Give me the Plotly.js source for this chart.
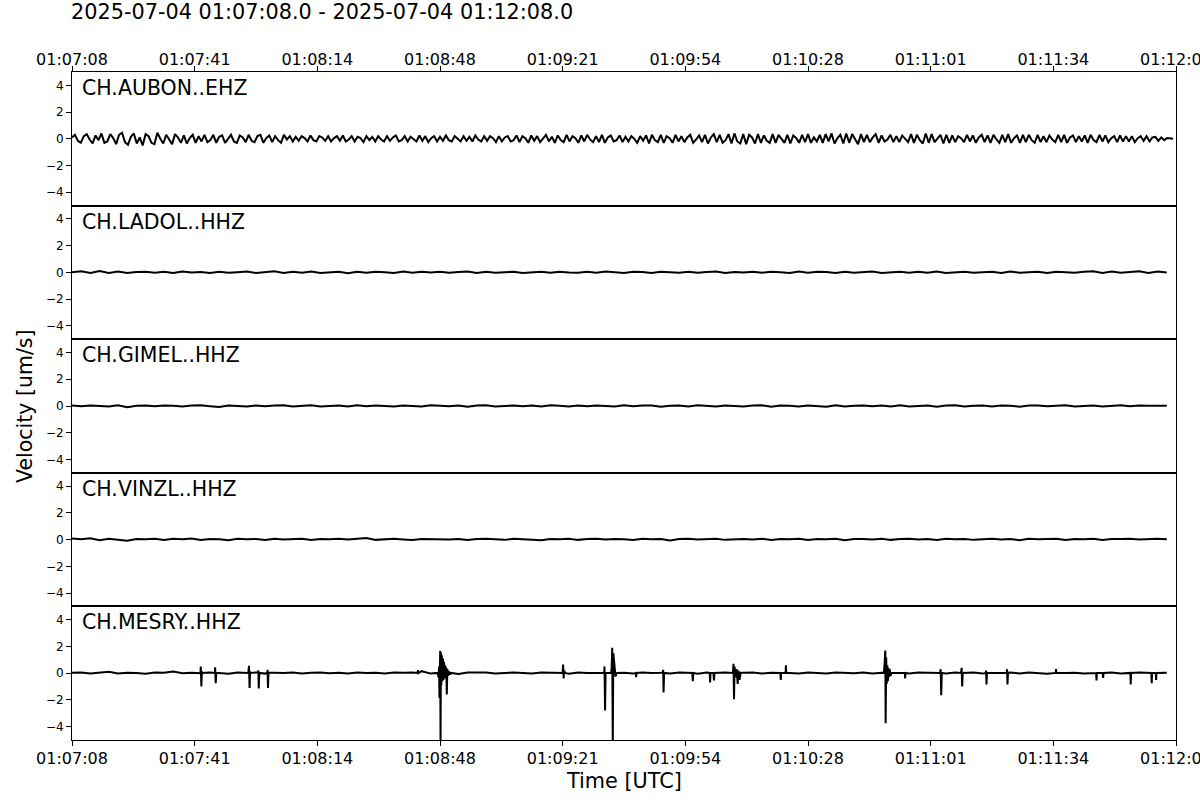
<!DOCTYPE html>
<html>
<head>
<meta charset="utf-8">
<script src="https://cdn.plot.ly/plotly-3.0.1.min.js"></script>
<style>
html,body{margin:0;padding:0;background:#fff;}
#chart{width:1200px;height:800px;}
</style>
</head>
<body>
<div id="chart"></div>
<script>
// ---------- DATA ----------
const chartTitle = "2025-07-04 01:07:08.0 - 2025-07-04 01:12:08.0";
const stationNames = ["CH.AUBON..EHZ", "CH.LADOL..HHZ", "CH.GIMEL..HHZ", "CH.VINZL..HHZ", "CH.MESRY..HHZ"];
const tickSeconds = [0, 33.333, 66.667, 100, 133.333, 166.667, 200, 233.333, 266.667, 300];
const tickLabels = ["01:07:08", "01:07:41", "01:08:14", "01:08:48", "01:09:21", "01:09:54", "01:10:28", "01:11:01", "01:11:34", "01:12:08"];
const yTickValues = [-4, -2, 0, 2, 4];

// AUBON sampled every 0.8 s (velocity, um/s)
const aubonDelta = 0.8;
const aubonValues = [
 0.1,0.3,-0.15,-0.3,0.2,0.35,-0.05,-0.35,0.25,-0.1,0.4,-0.3,-0.2,0.35,0.05,
 -0.4,0.3,0.45,-0.25,-0.45,0.15,0.4,-0.35,0.1,-0.5,0.35,0.2,-0.3,-0.4,0.45,
 0.0,-0.35,0.3,-0.1,-0.4,0.35,0.1,-0.3,0.25,-0.35,0.05,0.3,-0.3,0.2,-0.2,
 0.3,-0.25,-0.1,0.3,-0.3,0.15,0.25,-0.3,0.0,0.3,-0.2,-0.3,0.25,0.1,-0.25,
 0.3,-0.15,-0.25,0.2,0.3,-0.3,0.05,0.25,-0.25,0.2,-0.1,-0.3,0.3,-0.05,0.2,
 -0.2,0.15,-0.15,0.2,0.05,-0.2,0.25,-0.1,-0.2,0.2,0.1,-0.15,0.2,-0.2,0.05,
 0.2,-0.15,0.25,-0.2,-0.05,0.2,-0.2,0.15,0.05,-0.25,0.2,-0.1,0.15,-0.2,0.2,
 -0.05,-0.2,0.2,-0.15,0.1,0.25,-0.2,-0.1,0.2,-0.2,0.15,-0.05,-0.2,0.25,-0.15,
 0.2,-0.25,0.05,0.2,-0.2,0.15,-0.15,0.25,-0.1,-0.2,0.2,0.0,-0.2,0.2,-0.15,
 0.15,-0.2,0.25,-0.05,-0.2,0.2,-0.15,0.2,0.05,-0.25,0.2,-0.2,0.1,0.2,-0.2,
 -0.1,0.25,-0.25,0.2,0.05,-0.3,0.25,-0.15,0.2,-0.25,0.0,0.3,-0.2,0.15,-0.3,
 0.25,-0.1,-0.25,0.3,-0.2,0.2,0.05,-0.3,0.25,-0.2,0.3,-0.05,-0.25,0.2,-0.25,
 0.3,-0.3,0.1,0.25,-0.2,-0.1,0.25,-0.25,0.15,-0.2,0.2,0.0,-0.3,0.2,-0.15,
 0.25,-0.35,0.3,-0.1,-0.25,0.3,-0.3,0.2,0.05,-0.3,0.3,-0.2,0.2,-0.25,0.1,
 0.3,-0.3,-0.05,0.25,-0.25,0.3,-0.35,0.1,0.35,-0.25,0.3,-0.3,-0.1,0.35,-0.35,
 0.4,-0.2,-0.35,0.35,-0.4,0.3,0.1,-0.35,0.35,-0.3,0.25,-0.15,-0.3,0.35,-0.3,
 0.3,-0.05,-0.3,0.3,-0.35,0.25,0.05,-0.3,0.3,-0.25,0.35,-0.3,0.1,-0.2,0.3,
 -0.3,0.35,-0.2,0.4,-0.35,0.05,0.3,-0.35,0.4,-0.3,0.35,-0.05,-0.4,0.35,-0.25,
 0.3,-0.25,0.1,0.35,-0.3,0.25,-0.2,-0.05,0.3,-0.25,0.2,-0.25,0.25,0.0,-0.25,
 0.35,-0.3,0.3,-0.1,-0.35,0.4,-0.3,0.35,-0.25,0.05,0.3,-0.35,0.3,-0.3,0.25,
 -0.25,0.2,0.05,-0.25,0.3,-0.2,0.25,-0.3,0.1,0.3,-0.25,0.25,-0.3,0.3,-0.05,
 -0.3,0.3,-0.25,0.35,-0.3,0.05,0.25,-0.3,0.3,-0.25,0.3,-0.1,-0.3,0.3,-0.25,
 0.2,-0.25,0.25,-0.05,-0.25,0.3,-0.25,0.3,-0.3,0.1,0.25,-0.25,0.2,-0.2,0.25,
 -0.3,0.3,-0.1,-0.25,0.3,-0.2,0.25,-0.25,0.05,0.2,-0.25,0.25,-0.2,0.2,-0.2,
 0.2,-0.25,0.05,0.2,-0.15,0.2,-0.2,0.1,0.15,-0.15,0.1,-0.1,0.05,0.05,0.0
];

// LADOL, GIMEL, VINZL sampled every 2.5 s
const quietDelta = 2.5;
const ladolValues = [
 0.02,0.08,-0.05,0.1,-0.04,0.06,-0.05,0.03,0.05,-0.03,
 0.04,-0.05,0.06,0.0,0.03,-0.04,0.05,-0.03,0.02,0.06,
 -0.04,0.03,0.08,-0.05,0.04,-0.02,0.06,-0.04,0.03,0.05,
 -0.06,0.04,-0.02,0.05,0.02,-0.04,0.07,-0.03,0.04,0.0,
 0.05,-0.03,0.03,0.06,-0.05,0.04,-0.02,0.03,0.05,-0.04,
 0.02,0.04,-0.03,0.05,0.0,-0.02,0.04,-0.03,0.06,0.02,
 -0.04,0.05,0.03,-0.05,0.04,0.02,-0.03,0.05,-0.02,0.03,
 0.06,-0.04,0.03,0.0,0.05,-0.03,0.04,0.02,-0.04,0.06,
 -0.02,0.04,0.03,-0.05,0.05,-0.03,0.02,0.06,-0.04,0.03,
 0.05,-0.03,0.04,-0.02,0.07,-0.04,0.03,0.05,-0.03,0.02,
 0.04,-0.05,0.06,-0.02,0.03,0.05,-0.04,0.04,0.02,-0.03,
 0.05,0.08,-0.04,0.06,-0.03,0.04,0.09,-0.05,0.06,0.0
];
const gimelValues = [
 0.03,-0.02,0.04,0.01,-0.03,0.05,-0.1,0.02,0.03,-0.02,
 0.04,0.01,-0.03,0.03,0.05,-0.02,-0.08,0.03,0.02,-0.03,
 0.04,-0.02,0.03,0.05,-0.04,0.02,0.06,-0.03,0.01,0.04,
 -0.03,0.05,-0.02,0.03,0.0,-0.04,0.04,0.02,-0.03,0.05,
 0.02,-0.02,0.04,-0.06,0.03,0.05,-0.03,0.02,0.04,-0.02,
 0.03,-0.04,0.05,0.02,-0.03,0.04,-0.02,0.03,0.01,-0.04,
 0.05,-0.02,0.03,0.04,-0.05,0.02,0.03,-0.03,0.05,0.01,
 -0.03,0.04,0.02,-0.04,0.03,0.05,-0.06,0.03,0.02,-0.03,
 0.04,0.0,-0.05,0.06,-0.03,0.02,0.04,-0.02,0.03,-0.04,
 0.05,-0.03,0.02,0.04,-0.06,0.03,0.05,-0.04,0.02,0.03,
 -0.03,0.04,0.02,-0.05,0.03,0.04,-0.02,0.03,0.05,-0.03,
 0.02,0.04,-0.03,0.03,0.05,-0.02,0.03,0.01,0.04,0.02
];
const vinzlValues = [
 0.08,0.02,0.1,-0.04,0.06,0.0,-0.08,0.05,0.03,0.07,
 -0.03,0.06,0.02,0.08,-0.02,0.05,0.03,-0.05,0.07,0.02,
 0.05,-0.03,0.06,0.01,0.04,0.07,-0.02,0.05,0.03,0.06,
 0.0,0.05,0.12,-0.02,0.04,0.06,0.01,-0.03,0.05,0.03,
 0.06,0.0,0.04,-0.03,0.05,0.07,0.02,-0.02,0.06,0.03,
 0.04,-0.04,0.05,0.02,0.07,-0.02,0.04,0.06,0.0,0.05,
 0.03,-0.03,0.06,0.02,0.05,-0.06,0.04,0.07,0.01,0.03,
 0.06,-0.02,0.04,0.05,0.0,0.06,-0.03,0.04,0.02,0.07,
 -0.02,0.05,0.03,0.06,-0.04,0.04,0.05,0.01,0.06,-0.02,
 0.04,0.07,0.0,0.05,-0.03,0.06,0.03,0.05,-0.02,0.04,
 0.06,0.01,0.05,-0.04,0.07,0.02,0.04,0.06,-0.03,0.05,
 0.03,0.06,-0.02,0.05,0.04,0.07,0.0,0.04,0.06,0.02
];

// MESRY: background sampled every 2.5 s plus transient events
const mesryBaseValues = [
 0.03,0.06,-0.02,0.05,0.1,-0.03,0.04,0.02,-0.04,0.05,
 0.03,0.12,0.0,0.04,-0.03,0.05,0.02,-0.04,0.06,0.03,
 0.05,-0.03,0.04,0.02,0.06,-0.02,0.03,0.05,0.0,0.04,
 -0.03,0.06,0.02,0.04,-0.02,0.05,0.03,0.06,0.15,-0.03,
 0.04,0.02,-0.05,0.05,0.03,0.06,-0.02,0.04,0.05,0.02,
 -0.03,0.05,0.02,0.04,-0.04,0.06,0.02,0.03,-0.02,0.05,
 0.04,-0.03,0.06,0.02,0.04,-0.02,0.05,0.03,-0.04,0.05,
 0.02,0.06,-0.03,0.04,0.05,-0.02,0.03,0.06,0.02,-0.03,
 0.05,0.03,-0.02,0.06,0.04,0.0,0.05,-0.03,0.04,0.06,
 0.02,-0.03,0.05,0.04,0.02,-0.02,0.06,0.03,0.05,-0.03,
 0.04,0.02,0.06,-0.02,0.05,0.03,-0.04,0.05,0.02,0.04,
 -0.03,0.05,0.03,0.06,-0.02,0.04,0.05,0.02,0.04,0.03
];
const mesryEventTimes = [
 34.9,35.0,35.15,35.3,35.5,
 38.8,38.9,39.05,39.2,
 47.9,48.1,48.25,48.4,48.6,
 50.55,50.65,50.75,50.9,
 53.05,53.15,53.25,53.4,
 93.9,94.0,94.15,
 99.4,99.6,99.75,99.85,99.95,100.05,100.15,100.25,100.35,100.5,100.65,100.8,100.95,101.1,101.25,101.4,101.55,101.7,101.85,102.0,102.2,102.4,102.7,103.0,
 133.3,133.45,133.6,133.75,133.95,
 144.6,144.7,144.85,145.0,
 146.5,146.65,146.8,146.95,147.1,147.3,147.5,147.7,148.0,
 153.2,153.3,153.4,
 160.55,160.65,160.75,160.9,
 168.55,168.7,168.85,
 173.3,173.4,173.5,
 174.3,174.45,174.6,
 179.6,179.75,179.9,180.05,180.3,180.6,180.9,181.1,181.4,181.7,
 192.5,192.6,192.7,
 193.9,194.0,194.1,
 220.6,220.8,220.9,221.0,221.1,221.25,221.4,221.55,221.7,221.85,222.0,222.2,222.4,222.7,
 226.3,226.4,226.5,
 235.9,236.05,236.2,236.35,
 241.6,241.75,241.9,242.05,
 248.3,248.4,248.5,248.65,
 254.0,254.1,254.2,254.35,
 267.3,267.4,267.5,
 278.3,278.4,278.5,
 280.1,280.2,280.3,
 287.6,287.7,287.8,
 293.3,293.4,293.5,
 294.5,294.6,294.7
];
const mesryEventValues = [
 0.0,0.5,-1.0,0.1,0.02,
 0.02,0.45,-0.75,0.03,
 0.02,0.55,-1.1,0.1,0.02,
 0.05,0.2,-1.15,0.02,
 0.05,0.25,-1.1,0.03,
 0.02,0.22,0.0,
 0.02,-0.3,0.5,-1.85,1.0,1.67,-5.4,1.55,-0.9,1.35,-0.6,1.1,-0.5,0.85,-0.4,0.6,-0.3,0.45,-1.6,0.3,-0.2,0.15,-0.1,0.02,
 0.02,0.65,-0.4,0.2,0.02,
 0.03,0.5,-2.8,0.02,
 0.02,0.4,1.9,-5.4,1.5,0.9,0.4,-0.25,0.02,
 0.02,-0.3,0.02,
 0.05,0.25,-1.45,0.02,
 0.02,-0.6,0.02,
 0.02,-0.7,0.02,
 0.02,-0.55,0.02,
 0.02,0.7,-1.95,0.5,-0.3,0.3,-0.8,0.2,-0.5,0.03,
 0.02,-0.5,0.02,
 0.02,0.6,0.02,
 0.02,0.6,1.0,1.7,-3.75,1.2,-0.8,0.6,-0.6,0.4,-0.3,0.3,-0.2,0.02,
 0.02,-0.4,0.02,
 0.02,0.3,-1.65,0.02,
 0.02,0.4,-1.0,0.02,
 0.02,0.2,-0.85,0.02,
 0.02,0.3,-0.85,0.02,
 0.02,0.3,0.02,
 0.02,-0.55,0.02,
 0.02,-0.35,0.02,
 0.02,-0.85,0.02,
 0.02,-0.75,0.02,
 0.02,-0.5,0.02
];

// ---------- BUILD ----------
function sampleTimes(values, delta) {
  return values.map((_, i) => i * delta);
}
function mergeSeries(baseValues, delta, evT, evV) {
  const pts = [];
  baseValues.forEach((v, i) => {
    const t = i * delta;
    const near = evT.some(e => Math.abs(e - t) < 0.5);
    if (!near) pts.push([t, v]);
  });
  evT.forEach((t, i) => pts.push([t, evV[i]]));
  pts.sort((a, b) => a[0] - b[0]);
  return { x: pts.map(p => p[0]), y: pts.map(p => p[1]) };
}

const mesry = mergeSeries(mesryBaseValues, quietDelta, mesryEventTimes, mesryEventValues);
const seriesX = [
  sampleTimes(aubonValues, aubonDelta),
  sampleTimes(ladolValues, quietDelta),
  sampleTimes(gimelValues, quietDelta),
  sampleTimes(vinzlValues, quietDelta),
  mesry.x
];
const seriesY = [aubonValues, ladolValues, gimelValues, vinzlValues, mesry.y];

const FONT = "DejaVu Sans, Liberation Sans, sans-serif";
const traces = [];
const layout = {
  width: 1200, height: 800,
  margin: { l: 72, r: 24, t: 72, b: 60, pad: 0 },
  paper_bgcolor: "#ffffff", plot_bgcolor: "#ffffff",
  showlegend: false,
  font: { family: FONT, color: "#000000" },
  annotations: [],
};

const nPanels = stationNames.length;
for (let i = 0; i < nPanels; i++) {
  const sfx = i === 0 ? "" : String(i + 1);
  traces.push({
    type: "scatter", mode: "lines",
    x: seriesX[i], y: seriesY[i],
    xaxis: "x" + sfx, yaxis: "y" + sfx,
    line: { color: "#000000", width: 2 },
    hoverinfo: "skip"
  });
  const top = 1 - i / nPanels, bottom = 1 - (i + 1) / nPanels;
  const isTop = i === 0, isBottom = i === nPanels - 1;
  layout["xaxis" + sfx] = {
    domain: [0, 1], anchor: "y" + sfx,
    range: [0, 300],
    side: isTop ? "top" : "bottom",
    tickmode: "array", tickvals: tickSeconds, ticktext: tickLabels,
    ticks: (isTop || isBottom) ? "outside" : "",
    ticklen: 5, tickwidth: 1, tickcolor: "#000",
    showticklabels: isTop || isBottom,
    ticklabeloverflow: "allow",
    ticklabelstandoff: isTop ? -5 : -1,
    tickfont: { family: FONT, size: 16, color: "#000" },
    showline: true, mirror: true, linecolor: "#000", linewidth: 1,
    showgrid: false, zeroline: false,
    matches: isTop ? undefined : "x"
  };
  layout["yaxis" + sfx] = {
    domain: [bottom, top], anchor: "x" + sfx,
    range: [-5, 5],
    tickmode: "array", tickvals: yTickValues,
    ticks: "outside", ticklen: 5, tickwidth: 1, tickcolor: "#000",
    tickfont: { family: FONT, size: 12, color: "#000" },
    showline: true, mirror: true, linecolor: "#000", linewidth: 1,
    showgrid: false, zeroline: false
  };
  layout.annotations.push({
    text: stationNames[i],
    xref: "x" + sfx + " domain", yref: "y" + sfx + " domain",
    x: 0, xshift: 8, y: 0.88, xanchor: "left", yanchor: "middle",
    showarrow: false,
    font: { family: FONT, size: 20.5, color: "#000" }
  });
}

layout.annotations.push({
  text: chartTitle, xref: "paper", yref: "paper",
  x: 0, xshift: -3, y: 1.09, xanchor: "left", yanchor: "middle",
  showarrow: false, font: { family: FONT, size: 20.8, color: "#000" }
});
layout.annotations.push({
  text: "Velocity [um/s]", xref: "paper", yref: "paper",
  x: -0.0426, y: 0.5, xanchor: "center", yanchor: "middle", textangle: -90,
  showarrow: false, font: { family: FONT, size: 20.5, color: "#000" }
});
layout.annotations.push({
  text: "Time [UTC]", xref: "paper", yref: "paper",
  x: 0.5, y: -0.0614, xanchor: "center", yanchor: "middle",
  showarrow: false, font: { family: FONT, size: 20.8, color: "#000" }
});

Plotly.newPlot("chart", traces, layout, { staticPlot: true, displayModeBar: false });
</script>
</body>
</html>
